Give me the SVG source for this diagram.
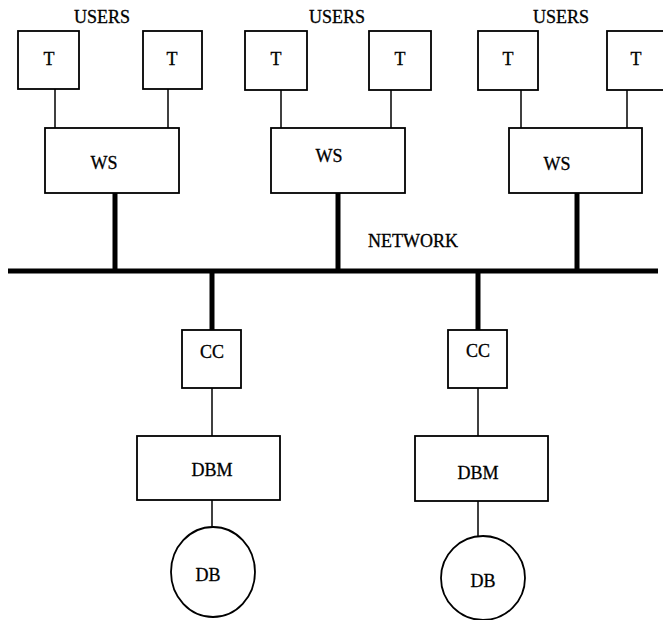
<svg xmlns="http://www.w3.org/2000/svg" width="663" height="620" viewBox="0 0 663 620">
  <style>
    .box { fill: #fff; stroke: #000; stroke-width: 1.8; }
    .thin { stroke: #000; stroke-width: 1.5; fill: none; }
    .thick { stroke: #000; stroke-width: 5; fill: none; }
    .bus { stroke: #000; stroke-width: 5; fill: none; }
    .lbl { font-family: "Liberation Serif", "Times New Roman", serif; font-size: 18px; fill: #000; stroke: #000; stroke-width: 0.3; text-anchor: middle; dominant-baseline: central; }
    .hdr { font-family: "Liberation Serif", "Times New Roman", serif; font-size: 18px; fill: #000; stroke: #000; stroke-width: 0.3; text-anchor: middle; }
  </style>
  <rect width="663" height="620" fill="#fff"/>

  <!-- connectors -->
  <g id="connectors">
    <!-- terminals to workstations -->
    <line class="thin" x1="55" y1="89" x2="55" y2="128"/>
    <line class="thin" x1="168" y1="89" x2="168" y2="128"/>
    <line class="thin" x1="281" y1="90" x2="281" y2="128"/>
    <line class="thin" x1="391" y1="90" x2="391" y2="128"/>
    <line class="thin" x1="521" y1="90" x2="521" y2="128"/>
    <line class="thin" x1="627" y1="90" x2="627" y2="128"/>
    <!-- workstations to network -->
    <line class="thick" x1="115" y1="193" x2="115" y2="271"/>
    <line class="thick" x1="338" y1="193" x2="338" y2="271"/>
    <line class="thick" x1="577" y1="193" x2="577" y2="271" stroke-width="4"/>
    <!-- network bus -->
    <line class="bus" x1="8" y1="271" x2="658" y2="271"/>
    <!-- network to concurrency controllers -->
    <line class="thick" x1="212" y1="271" x2="212" y2="330"/>
    <line class="thick" x1="478" y1="271" x2="478" y2="330"/>
    <!-- CC to DBM -->
    <line class="thin" x1="212" y1="388" x2="212" y2="436"/>
    <line class="thin" x1="478" y1="388" x2="478" y2="436"/>
    <!-- DBM to DB -->
    <line class="thin" x1="212" y1="500" x2="212" y2="527"/>
    <line class="thin" x1="478" y1="501" x2="478" y2="536"/>
  </g>

  <!-- user headings -->
  <text class="hdr" x="102" y="23">USERS</text>
  <text class="hdr" x="337" y="23">USERS</text>
  <text class="hdr" x="561" y="23">USERS</text>
  <text class="hdr" x="413" y="247">NETWORK</text>

  <!-- terminals -->
  <g id="t1"><rect class="box" x="18" y="31" width="61" height="58"/><text class="lbl" x="49" y="59">T</text></g>
  <g id="t2"><rect class="box" x="143" y="31" width="59" height="58"/><text class="lbl" x="172" y="59">T</text></g>
  <g id="t3"><rect class="box" x="245" y="31" width="62" height="59"/><text class="lbl" x="276" y="59">T</text></g>
  <g id="t4"><rect class="box" x="369" y="31" width="62" height="59"/><text class="lbl" x="400" y="59">T</text></g>
  <g id="t5"><rect class="box" x="478" y="31" width="60" height="59"/><text class="lbl" x="508" y="59">T</text></g>
  <g id="t6"><rect class="box" x="607" y="31" width="60" height="59"/><text class="lbl" x="636" y="59">T</text></g>

  <!-- workstations -->
  <g id="ws1"><rect class="box" x="45" y="128" width="134" height="65"/><text class="lbl" x="104" y="163">WS</text></g>
  <g id="ws2"><rect class="box" x="271" y="128" width="134" height="65"/><text class="lbl" x="329" y="156">WS</text></g>
  <g id="ws3"><rect class="box" x="509" y="128" width="133" height="65"/><text class="lbl" x="557" y="164">WS</text></g>

  <!-- concurrency controllers -->
  <g id="cc1"><rect class="box" x="182" y="330" width="59" height="58"/><text class="lbl" x="212" y="352">CC</text></g>
  <g id="cc2"><rect class="box" x="448" y="330" width="59" height="58"/><text class="lbl" x="478" y="351">CC</text></g>

  <!-- database managers -->
  <g id="dbm1"><rect class="box" x="137" y="436" width="143" height="64"/><text class="lbl" x="212" y="470">DBM</text></g>
  <g id="dbm2"><rect class="box" x="415" y="436" width="133" height="65"/><text class="lbl" x="478" y="473">DBM</text></g>

  <!-- databases -->
  <g id="db1"><ellipse class="box" cx="213" cy="572" rx="42" ry="45"/><text class="lbl" x="208" y="575">DB</text></g>
  <g id="db2"><ellipse class="box" cx="483" cy="578" rx="42" ry="42"/><text class="lbl" x="483" y="581">DB</text></g>
</svg>
